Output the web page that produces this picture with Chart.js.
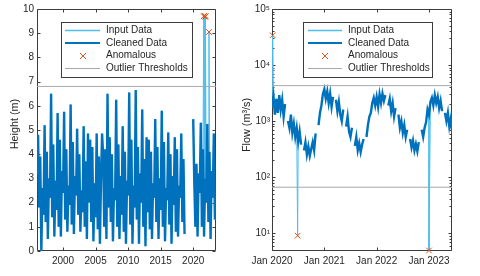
<!DOCTYPE html>
<html>
<head>
<meta charset="utf-8">
<script src="https://cdn.jsdelivr.net/npm/chart.js@4.4.0/dist/chart.umd.min.js"></script>
<style>
  body { margin: 0; background: #fff; }
  #wrap { display: flex; width: 480px; height: 276px; }
  canvas { display: block; }
</style>
</head>
<body>
<div id="wrap">
  <canvas id="heightChart" width="240" height="276"></canvas>
  <canvas id="flowChart" width="240" height="276"></canvas>
</div>
<script>
// river height (m), one reading every two months from Jan 1996, null = no record
const heightStart = 1996;
const heightStep = 1 / 6;
const heightValues = [
  3.2, 4.8, 1.8, 3.9, 0.0, 2.6,    // 1996
  1.5, 5.2, 1.2, 4.1, 0.5, 3.0,    // 1997
  2.2, 6.5, 1.4, 4.4, 0.6, 2.9,    // 1998
  1.7, 5.7, 1.0, 4.6, 0.6, 3.3,    // 1999
  2.4, 5.75, 1.3, 4.2, 0.8, 2.7,   // 2000
  1.9, 6.05, 1.1, 4.5, 0.7, 3.1,   // 2001
  2.3, 5.05, 1.5, 4.0, 0.8, 2.5,   // 2002
  1.6, 5.15, 1.0, 3.7, 0.5, 4.85,  // 2003
  2.0, 4.6, 1.2, 4.3, 0.4, 2.8,    // 2004
  1.4, 4.85, 0.9, 3.9, 0.3, 3.0,   // 2005
  4.85, 3.9, 1.0, 4.2, 0.5, 6.5,   // 2006
  1.8, 4.7, 1.2, 4.0, 0.4, 2.6,    // 2007
  2.1, 6.25, 1.0, 4.4, 0.5, 3.1,   // 2008
  1.5, 5.15, 0.8, 4.1, 0.3, 2.9,   // 2009
  2.3, 6.55, 1.1, 4.6, 0.3, 2.7,   // 2010
  1.8, 6.65, 1.3, 4.3, 0.3, 3.2,   // 2011
  2.0, 5.85, 1.0, 3.8, 0.2, 4.7,   // 2012
  1.6, 4.6, 0.9, 4.1, 0.5, 2.8,    // 2013
  2.2, 5.45, 1.2, 4.3, 0.5, 3.0,   // 2014
  1.7, 5.8, 1.0, 4.5, 0.4, 2.6,    // 2015
  2.1, 4.9, 1.1, 4.0, 0.3, 3.1,    // 2016
  1.9, 4.7, 0.8, 4.2, 0.6, 2.7,    // 2017
  2.2, 4.85, 1.2, 3.8, 0.7, null,  // 2018
  null, null, null, null, null, null, // 2019
  5.45, 2.8, 1.0, 3.6, 0.6, 3.2,   // 2020
  2.4, 5.3, 1.0, 4.2, 0.6, 3.0,    // 2021
  2.0, 5.25, 1.2, 4.1, 0.5, 3.3,   // 2022
  2.2, 4.85, 1.3, 2.0              // 2023
];
const heightAnomalyYears = [2021.62, 2021.72, 2021.82, 2021.92, 2022.42];
const heightAnomalyValues = [9.7, 9.72, 9.68, 9.7, 9.05];
const heightThresholds = [6.8];
const heightYearTicks = [2000, 2005, 2010, 2015, 2020];

// flow (m3/s), one reading every ten days from Jan 2020, null = no record
const flowStart = 2020;
const flowStep = 1 / 36;
const flowValues = [
  1800, 2800, 1300, 2500, 1400, 2900, 1600, 2400, 1200, 2000, null, 1000,  // 2020 Jan-Apr
  750, 1300, 620, 900, 520, 760, 430, 650, 380, null, 300, 420,            // 2020 May-Aug
  250, 350, 240, 320, 420, 300, 600, null, 850, 1400, 1900, 3000,          // 2020 Sep-Dec
  3700, 2500, 3400, 2100, 3100, 1800, 2700, null, 2400, 1500, 2200, 1300,  // 2021 Jan-Apr
  1000, 1600, null, 800, 1200, 650, 520, 760, null, 360, 520, 300,         // 2021 May-Aug
  400, 280, 380, 480, null, 520, 850, 1200, 1400, 2100, 2600, 1900,        // 2021 Sep-Dec
  2700, 1800, 3000, 2100, 3100, 2300, 2900, null, 1900, 2500, 1500, 2100,  // 2022 Jan-Apr
  1200, 1700, null, 1300, 760, 1000, 620, 850, 520, 700, null, 480,        // 2022 May-Aug
  340, 450, 300, 390, 290, 420, null, 700, 520, 760, 950, 1600,            // 2022 Sep-Dec
  1300, 2200, 2600, 1900, 2900, 2100, 2700, 1700, 2300, 1500, null, 1400,  // 2023 Jan-Apr
  1000, 1400, 800, 1100, 620                                               // 2023 May-Jun
];
const flowAnomalyYears = [2020.012, 2020.49, 2023.0];
const flowAnomalyValues = [34000, 9, 4.9];
const flowThresholds = [4290, 66];
const flowYearTicks = [2020, 2021, 2022, 2023];

const legendLabels = ['Input Data', 'Cleaned Data', 'Anomalous', 'Outlier Thresholds'];

const INPUT_COLOR = '#4DBEEE';
const CLEAN_COLOR = '#0072BD';
const ANOM_COLOR = '#D95319';
const THRESH_COLOR = '#a8a8a8';

Chart.defaults.font.family = '"Liberation Sans", Arial, sans-serif';
Chart.defaults.font.size = 10;
Chart.defaults.color = '#262626';

const toPoints = (start, step, vals) => vals.map((v, i) => ({ x: start + i * step, y: v }));
const pairPoints = (xs, ys) => xs.map((x, i) => ({ x: x, y: ys[i] }));

// box round the axes with inward ticks on all four sides (drawn under the data)
const axesBox = {
  id: 'axesBox',
  beforeDatasetsDraw(chart) {
    const { ctx, chartArea: a, scales } = chart;
    const x = scales.x, y = scales.y;
    const L = a.left + 0.5, R = a.right - 0.5, T = a.top + 0.5, B = a.bottom - 0.5;
    ctx.save();
    ctx.strokeStyle = '#3c3c3c';
    ctx.lineWidth = 1;
    ctx.beginPath();
    ctx.rect(L, T, R - L, B - T);
    x.ticks.forEach(t => {
      const px = Math.round(x.getPixelForValue(t.value)) + 0.5;
      ctx.moveTo(px, B); ctx.lineTo(px, B - 3);
      ctx.moveTo(px, T); ctx.lineTo(px, T + 3);
    });
    y.ticks.forEach(t => {
      const py = Math.round(y.getPixelForValue(t.value)) + 0.5;
      ctx.moveTo(L, py); ctx.lineTo(L + 3, py);
      ctx.moveTo(R, py); ctx.lineTo(R - 3, py);
    });
    if (y.type === 'logarithmic') {
      const e0 = Math.floor(Math.log10(y.min)), e1 = Math.ceil(Math.log10(y.max));
      for (let e = e0; e <= e1; e++) {
        for (let m = 2; m <= 9; m++) {
          const v = m * Math.pow(10, e);
          if (v < y.min || v > y.max) continue;
          const py = Math.round(y.getPixelForValue(v)) + 0.5;
          ctx.moveTo(L, py); ctx.lineTo(L + 2, py);
          ctx.moveTo(R, py); ctx.lineTo(R - 2, py);
        }
      }
    }
    ctx.stroke();
    ctx.restore();
  }
};

// y title and boxed legend placed where the original has them
const extras = {
  id: 'extras',
  afterDraw(chart, args, o) {
    const ctx = chart.ctx;
    ctx.save();
    ctx.fillStyle = '#262626';
    ctx.font = '10.8px "Liberation Sans", Arial, sans-serif';
    ctx.textAlign = 'center';
    ctx.textBaseline = 'middle';
    ctx.translate(o.titleX, o.titleY);
    ctx.rotate(-Math.PI / 2);
    ctx.fillText(o.title, 0, 0);
    ctx.restore();

    const lg = o.legend;
    ctx.save();
    ctx.fillStyle = '#fff';
    ctx.fillRect(lg.x, lg.y, lg.w, lg.h);
    ctx.strokeStyle = '#3c3c3c';
    ctx.lineWidth = 1;
    ctx.strokeRect(lg.x + 0.5, lg.y + 0.5, lg.w - 1, lg.h - 1);
    ctx.font = '10px "Liberation Sans", Arial, sans-serif';
    ctx.textBaseline = 'middle';
    ctx.textAlign = 'left';
    legendLabels.forEach((lab, i) => {
      const ds = chart.data.datasets.find(d => d.label === lab);
      const ry = lg.rows[i];
      ctx.beginPath();
      if (ds.showLine === false) {
        const cx = Math.round(lg.sx + lg.sw / 2), cy = Math.round(ry), r = 3;
        ctx.strokeStyle = ANOM_COLOR;
        ctx.lineWidth = 1;
        ctx.moveTo(cx - r, cy - r); ctx.lineTo(cx + r, cy + r);
        ctx.moveTo(cx - r, cy + r); ctx.lineTo(cx + r, cy - r);
      } else {
        ctx.strokeStyle = ds.borderColor;
        ctx.lineWidth = ds.legendWidth || ds.borderWidth;
        ctx.moveTo(lg.sx, ry); ctx.lineTo(lg.sx + lg.sw, ry);
      }
      ctx.stroke();
      ctx.fillStyle = '#262626';
      ctx.fillText(lab, lg.tx, ry);
    });
    ctx.restore();
  }
};

function makeChart(id, cfg) {
  const cleaned = toPoints(cfg.start, cfg.step, cfg.values);
  const anoms = pairPoints(cfg.anomX, cfg.anomY);
  const input = cleaned.concat(anoms).sort((p, q) => p.x - q.x);
  const thresholdSets = cfg.thresholds.map(v => ({
    label: 'Outlier Thresholds',
    data: [{ x: cfg.xMin, y: v }, { x: cfg.xMax, y: v }],
    borderColor: THRESH_COLOR,
    borderWidth: 1,
    pointRadius: 0
  }));
  return new Chart(document.getElementById(id), {
    type: 'line',
    data: {
      datasets: [
        {
          label: 'Anomalous',
          data: anoms,
          showLine: false,
          pointStyle: 'crossRot',
          pointRadius: 4,
          borderColor: ANOM_COLOR,
          backgroundColor: ANOM_COLOR,
          borderWidth: 1,
          clip: false
        },
        ...thresholdSets,
        {
          label: 'Cleaned Data',
          data: cleaned,
          borderColor: CLEAN_COLOR,
          borderWidth: cfg.cleanWidth,
          legendWidth: 2,
          pointRadius: 0,
          spanGaps: false
        },
        {
          label: 'Input Data',
          data: input,
          borderColor: INPUT_COLOR,
          borderWidth: 1,
          legendWidth: 1.3,
          pointRadius: 0,
          spanGaps: false
        }
      ]
    },
    options: {
      responsive: false,
      animation: false,
      events: [],
      layout: { padding: { top: 9, right: cfg.padRight, left: 0, bottom: 0 } },
      plugins: {
        legend: { display: false },
        tooltip: { enabled: false },
        extras: cfg.extras
      },
      scales: {
        x: {
          type: 'linear',
          min: cfg.xMin,
          max: cfg.xMax,
          grid: { display: false, drawTicks: false },
          border: { display: false },
          ticks: { padding: 4, maxRotation: 0, autoSkip: false, callback: cfg.xLabel },
          afterBuildTicks: s => { s.ticks = cfg.xTicks.map(v => ({ value: v })); },
          afterFit: s => { s.height = 25; }
        },
        y: cfg.y
      }
    },
    plugins: [axesBox, extras]
  });
}

makeChart('heightChart', {
  start: heightStart, step: heightStep, values: heightValues,
  anomX: heightAnomalyYears, anomY: heightAnomalyValues,
  thresholds: heightThresholds,
  xMin: 1996, xMax: 2023.5, xTicks: heightYearTicks,
  xLabel: v => String(v),
  padRight: 24,
  cleanWidth: 2.4,
  y: {
    type: 'linear',
    min: 0, max: 10,
    grid: { display: false, drawTicks: false },
    border: { display: false },
    ticks: { stepSize: 1, padding: 3 },
    afterFit: s => { s.width = 37; }
  },
  extras: {
    title: 'Height (m)', titleX: 15.5, titleY: 124,
    legend: { x: 61, y: 22, w: 132, h: 56, sx: 65, sw: 35, tx: 106, rows: [30.5, 43, 55.5, 68.5] }
  }
});

const supDigits = { '0': '\u2070', '1': '\u00b9', '2': '\u00b2', '3': '\u00b3', '4': '\u2074', '5': '\u2075' };

makeChart('flowChart', {
  start: flowStart, step: flowStep, values: flowValues,
  anomX: flowAnomalyYears, anomY: flowAnomalyValues,
  thresholds: flowThresholds,
  xMin: 2020, xMax: 2023.44, xTicks: flowYearTicks,
  xLabel: v => 'Jan ' + v,
  padRight: 28,
  cleanWidth: 2.4,
  y: {
    type: 'logarithmic',
    min: 4.8, max: 100000,
    grid: { display: false, drawTicks: false },
    border: { display: false },
    ticks: {
      padding: 2,
      autoSkip: false,
      callback: v => '10' + supDigits[String(Math.round(Math.log10(v)))]
    },
    afterBuildTicks: s => { s.ticks = [10, 100, 1000, 10000, 100000].map(v => ({ value: v })); },
    afterFit: s => { s.width = 32; }
  },
  extras: {
    title: 'Flow (m\u00b3/s)', titleX: 7, titleY: 125,
    legend: { x: 63, y: 22, w: 130, h: 56, sx: 68, sw: 34, tx: 108, rows: [30.5, 43, 55.5, 68.5] }
  }
});
</script>
</body>
</html>
